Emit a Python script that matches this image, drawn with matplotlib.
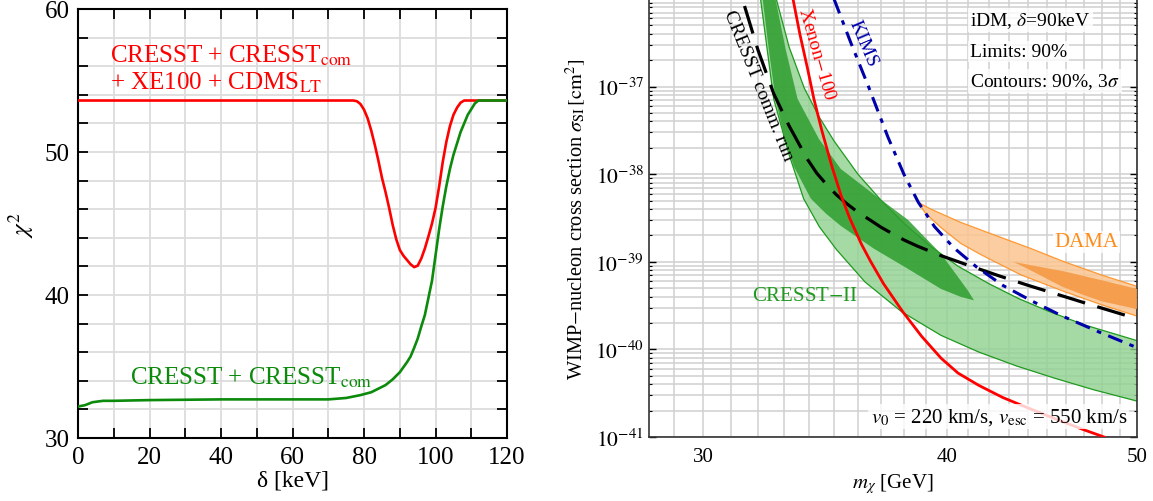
import numpy as np
import matplotlib
matplotlib.use("Agg")
import matplotlib.pyplot as plt
from matplotlib.ticker import FixedLocator, NullFormatter

plt.rcParams['font.family'] = ['Liberation Serif', 'DejaVu Serif']
plt.rcParams['mathtext.fontset'] = 'stix'

# ---- left panel: chi^2 vs delta ----
delta_red = [0, 20, 40, 60, 77, 78, 79, 80, 81, 82, 83, 84, 85, 86, 87, 88, 89, 90, 91, 92, 93, 94, 95,
             96, 97, 98, 99, 100, 101, 102, 103, 104, 105, 106, 107, 108, 120]
chi2_red = [53.6, 53.6, 53.6, 53.6, 53.6, 53.55, 53.35, 52.95, 52.35, 51.5, 50.5, 49.4, 48.2, 47.2,
            46.1, 44.9, 43.9, 43.15, 42.75, 42.45, 42.15, 41.95, 42.05, 42.55, 43.25, 44.1, 45.0,
            46.1, 47.6, 49.3, 50.7, 51.8, 52.6, 53.1, 53.45, 53.6, 53.6]

delta_green = [0, 2, 4, 7, 10, 20, 40, 60, 70, 75, 79, 82, 84, 86, 88, 90, 92, 93, 94, 95, 96, 97, 98,
               99, 100, 101, 102, 103, 104, 105, 106, 107, 108, 109, 110, 111, 112, 120]
chi2_green = [32.2, 32.3, 32.5, 32.6, 32.6, 32.65, 32.7, 32.7, 32.7, 32.8, 33.0, 33.2, 33.45, 33.7, 34.1,
              34.6, 35.3, 35.7, 36.3, 36.95, 37.8, 38.6, 39.8, 41.0, 42.8, 44.6, 46.2, 47.6, 48.8, 49.8,
              50.6, 51.4, 52.0, 52.6, 53.0, 53.4, 53.6, 53.6]

# ---- right panel: sigma vs m_chi (sigma given as log10 of the value) ----
xenon_m = [33.35, 33.62, 33.93, 34.18, 34.5, 34.9, 35.3, 35.65, 36.15, 36.55, 37.1, 37.95, 38.8, 39.7,
           40.5, 41.5, 42.7, 44.0, 45.5, 47.0, 48.1]
xenon_logs = [-36.0, -36.4, -36.8, -37.14, -37.5, -37.9, -38.25, -38.5, -38.8, -39.0, -39.25, -39.57,
              -39.85, -40.1, -40.27, -40.41, -40.55, -40.67, -40.8, -40.92, -41.0]

kims_m = [35.0, 35.7, 36.45, 37.3, 38.0, 38.65, 39.4, 40.3, 41.4, 42.7, 44.2, 45.8, 47.8, 50.0]
kims_logs = [-36.0, -36.5, -37.0, -37.58, -38.0, -38.32, -38.6, -38.84, -39.06, -39.27, -39.45, -39.62,
             -39.8, -39.98]

comm_m = [31.5, 32.0, 32.6, 33.2, 33.9, 34.3, 34.7, 35.1, 35.5, 36.0, 36.5, 37.0, 37.5, 38.0, 38.6,
          39.7, 41.0, 42.5, 44.0, 45.5, 47.5, 50.0]
comm_logs = [-36.08, -36.58, -37.08, -37.45, -37.82, -37.99, -38.12, -38.235, -38.33, -38.435, -38.52,
             -38.607, -38.68, -38.75, -38.82, -38.93, -39.04, -39.16, -39.27, -39.37, -39.5, -39.65]

cresst_up_m = [32.7, 33.2, 33.8, 34.4, 35.0, 36.0, 37.0, 38.0, 39.2, 40.5, 42.0, 43.5, 45.0, 47.0, 50.0]
cresst_up_logs = [-36.0, -36.55, -37.02, -37.35, -37.62, -38.0, -38.3, -38.56, -38.82, -39.05, -39.25,
                  -39.42, -39.56, -39.72, -39.9]
cresst_lo_m = [32.1, 32.6, 33.2, 33.77, 34.4, 35.1, 36.3, 37.9, 39.7, 41.5, 43.4, 45.4, 47.5, 50.0]
cresst_lo_logs = [-36.0, -37.14, -37.78, -38.28, -38.6, -38.86, -39.23, -39.57, -39.84, -40.03, -40.19,
                  -40.33, -40.46, -40.59]

cresst90_m = [32.18, 32.41, 32.67, 32.98, 33.38, 34.06, 34.67, 35.28, 36.68, 38.18, 39.7, 40.63, 41.27,
              40.98, 40.4, 39.7, 38.18, 36.68, 35.28, 34.39, 33.53, 33.06, 32.67]
cresst90_logs = [-36.0, -36.57, -37.14, -37.54, -37.91, -38.28, -38.45, -38.59, -38.85, -39.08, -39.31,
                 -39.4, -39.44, -39.33, -39.14, -38.91, -38.52, -38.23, -37.94, -37.6, -37.14, -36.57,
                 -36.0]

dama_up_m = [38.63, 39.24, 40.63, 42.46, 44.15, 45.9, 47.95, 50.0]
dama_up_logs = [-38.32, -38.4, -38.55, -38.71, -38.85, -39.0, -39.15, -39.28]
dama_lo_m = [38.63, 38.99, 39.7, 40.63, 41.62, 43.62, 45.9, 47.95, 50.0]
dama_lo_logs = [-38.32, -38.45, -38.61, -38.79, -38.92, -39.15, -39.34, -39.49, -39.62]

dama90_m = [43.22, 44.15, 45.9, 47.95, 50.0, 50.0, 47.95, 46.83, 45.74, 44.67, 43.87]
dama90_logs = [-39.0, -39.04, -39.11, -39.21, -39.31, -39.54, -39.45, -39.37, -39.28, -39.16, -39.07]

fig = plt.figure(figsize=(11.53, 5.02), dpi=100)

# ================= left panel =================
ax1 = fig.add_axes([0.0677, 0.1255, 0.3721, 0.8546])
ax1.plot(delta_red, chi2_red, color='red', lw=1.9, zorder=3)
ax1.plot(delta_green, chi2_green, color='#0b8a0b', lw=1.9, zorder=3)
ax1.set_xlim(0, 120)
ax1.set_ylim(30, 60)
ax1.set_xticks(np.arange(0, 121, 20))
ax1.set_xticks(np.arange(0, 121, 10), minor=True)
ax1.set_yticks([30, 40, 50, 60])
ax1.set_yticks(np.arange(30, 61, 2), minor=True)
ax1.grid(True, which='both', color='#dcdcdc', lw=1.3, zorder=0)
ax1.set_axisbelow(True)
ax1.tick_params(which='both', direction='in', top=True, right=True, length=7, width=1.3,
                labelsize=18, pad=6)
for s in ax1.spines.values():
    s.set_linewidth(1.5)
ax1.set_xlabel('δ [keV]', fontsize=17, labelpad=1)
ax1.set_ylabel(r'$\chi^2$', fontsize=18, labelpad=6)

ax1.text(8.8, 56.3, r'CRESST + CRESST$_{\rm com}$', color='red', fontsize=18)
ax1.text(8.8, 54.45, r'+ XE100 + CDMS$_{\rm LT}$', color='red', fontsize=18)
ax1.text(14.6, 33.8, r'CRESST + CRESST$_{\rm com}$', color='#0b8a0b', fontsize=18)

# ================= right panel =================
ax2 = fig.add_axes([0.5629, 0.1275, 0.4232, 0.8725])
ax2.set_xscale('log')
ax2.set_yscale('log')

p = lambda v: 10.0 ** np.asarray(v)

# CRESST-II contours (3 sigma light, 90% dark)
ax2.fill(np.r_[cresst_up_m, cresst_lo_m[::-1]], p(np.r_[cresst_up_logs, cresst_lo_logs[::-1]]),
         facecolor='#8fd18f', alpha=0.8, edgecolor='none', zorder=2)
ax2.plot(cresst_up_m, p(cresst_up_logs), color='#1f9a1f', lw=0.9, zorder=2.5)
ax2.plot(cresst_lo_m, p(cresst_lo_logs), color='#1f9a1f', lw=0.9, zorder=2.5)
ax2.fill(cresst90_m, p(cresst90_logs), facecolor='#2e9e2e', alpha=0.85, edgecolor='none', zorder=2.6)

# DAMA contours
ax2.fill(np.r_[dama_up_m, dama_lo_m[::-1]], p(np.r_[dama_up_logs, dama_lo_logs[::-1]]),
         facecolor='#fbc590', alpha=0.85, edgecolor='#ff8c1a', lw=0.9, zorder=2)
ax2.fill(dama90_m, p(dama90_logs), facecolor='#f59a45', alpha=0.9, edgecolor='none', zorder=2.6)

# limits
ax2.plot(comm_m, p(comm_logs), color='black', lw=2.3, dashes=(9, 4), zorder=3)
ax2.plot(kims_m, p(kims_logs), color='#0000aa', lw=2.2, dashes=(5, 2.5, 1.5, 2.5), zorder=3)
ax2.plot(xenon_m, p(xenon_logs), color='red', lw=2.0, zorder=3)

ax2.set_xlim(28.15, 50)
ax2.set_ylim(1e-41, 1e-36)

ax2.xaxis.set_major_locator(FixedLocator([30, 40, 50]))
ax2.xaxis.set_minor_locator(FixedLocator(list(range(28, 51))))
ax2.set_xticklabels(['30', '40', '50'])
ax2.xaxis.set_minor_formatter(NullFormatter())
ax2.yaxis.set_major_locator(FixedLocator([1e-41, 1e-40, 1e-39, 1e-38, 1e-37]))
ax2.set_yticklabels([r'$10^{-41}$', r'$10^{-40}$', r'$10^{-39}$', r'$10^{-38}$', r'$10^{-37}$'])
ax2.yaxis.set_minor_locator(FixedLocator([k * 10.0 ** e for e in range(-41, -36) for k in range(2, 10)]))
ax2.yaxis.set_minor_formatter(NullFormatter())
ax2.grid(True, which='both', color='#d0d0d0', lw=1.1, zorder=0)
ax2.set_axisbelow(True)
ax2.tick_params(which='major', direction='in', right=True, length=5, width=1.0, labelsize=15.5)
ax2.tick_params(which='minor', direction='in', right=True, length=2.5, width=0.8)
ax2.tick_params(axis='x', which='both', length=0, pad=7, labelsize=15)
ax2.spines['top'].set_visible(False)
for s in ['left', 'bottom', 'right']:
    ax2.spines[s].set_linewidth(1.2)
    ax2.spines[s].set_color('#333333')

ax2.set_xlabel(r'$m_\chi$ [GeV]', fontsize=15, labelpad=4)
ax2.set_ylabel(r'WIMP$-$nucleon cross section $\sigma_{\rm SI}\,[{\rm cm}^2]$', fontsize=14.7, labelpad=5)

ax2.text(34.3, 10 ** -36.62, r'Xenon$-$100', color='red', fontsize=14, rotation=-74,
         ha='center', va='center', zorder=4)
ax2.text(36.2, 10 ** -36.5, 'KIMS', color='#0000aa', fontsize=14, rotation=-67,
         ha='center', va='center', zorder=4)
ax2.text(32.0, 10 ** -36.98, 'CRESST comm. run', color='black', fontsize=14, rotation=-68,
         ha='center', va='center', zorder=4)
ax2.text(47.1, 10 ** -38.77, 'DAMA', color='#ff8c1a', fontsize=15, ha='center', va='center',
         bbox=dict(facecolor='white', edgecolor='none', alpha=0.8, pad=1), zorder=4)
ax2.text(33.8, 10 ** -39.39, r'CRESST$-$II', color='#1f9a1f', fontsize=15, ha='center', va='center',
         zorder=4)

box = dict(facecolor='white', edgecolor='none', alpha=0.8, pad=1.5)
ax2.text(0.658, 0.952, r'iDM, $\delta$=90keV', transform=ax2.transAxes, fontsize=14,
         va='center', bbox=box, zorder=5)
ax2.text(0.658, 0.880, 'Limits: 90%', transform=ax2.transAxes, fontsize=14,
         va='center', bbox=box, zorder=5)
ax2.text(0.658, 0.812, r'Contours: 90%, 3$\sigma$', transform=ax2.transAxes, fontsize=14,
         va='center', bbox=box, zorder=5)
ax2.text(0.98, 0.047, r'$v_0$ = 220 km/s, $v_{\rm esc}$ = 550 km/s', transform=ax2.transAxes,
         fontsize=15, ha='right', va='center', bbox=box, zorder=5)

fig.savefig('out.png', dpi=100)
